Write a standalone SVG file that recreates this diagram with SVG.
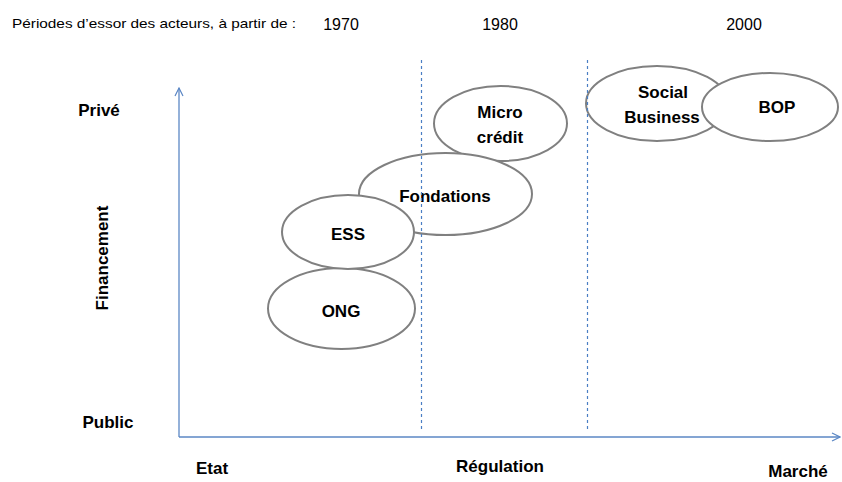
<svg xmlns="http://www.w3.org/2000/svg" width="842" height="482" viewBox="0 0 842 482">
<style>
.node ellipse{fill:#fff;stroke:#808080;stroke-width:2}
.lbl{font-family:"Liberation Sans",Arial,sans-serif;font-weight:bold;font-size:17px;fill:#000;text-anchor:middle}
.reg{font-family:"Liberation Sans",Arial,sans-serif;fill:#000}
.axis{stroke:#5B87C5;stroke-width:1.3;fill:none}
.dash{stroke:#4A7EC4;stroke-width:1.2;stroke-dasharray:3 3;fill:none}
</style>
<defs>
<marker id="open" viewBox="0 0 10 10" refX="9" refY="5" markerWidth="10" markerHeight="10" markerUnits="userSpaceOnUse" orient="auto">
<path d="M1,1 L9,5 L1,9" fill="none" stroke="#5B87C5" stroke-width="1.2"/>
</marker>
</defs>
<rect width="842" height="482" fill="#fff"/>
<text class="reg" x="12" y="28" font-size="13" textLength="284" lengthAdjust="spacingAndGlyphs">Périodes d’essor des acteurs, à partir de :</text>
<text class="reg" x="341" y="30" font-size="16" text-anchor="middle">1970</text>
<text class="reg" x="500" y="30" font-size="16" text-anchor="middle">1980</text>
<text class="reg" x="744" y="30" font-size="16" text-anchor="middle">2000</text>
<g id="axes">
<text class="lbl" x="99" y="116">Privé</text>
<text class="lbl" x="108" y="258" transform="rotate(-90 108 258)" font-size="16">Financement</text>
<text class="lbl" x="108" y="428">Public</text>
<text class="lbl" x="212" y="474">Etat</text>
<text class="lbl" x="500" y="472" font-size="16">Régulation</text>
<text class="lbl" x="798" y="477">Marché</text>
</g>
<g id="nodes">
<g id="ong" class="node"><ellipse cx="341.5" cy="308.5" rx="73.5" ry="40.5"/><text class="lbl" x="341" y="317">ONG</text></g>
<g id="microcredit" class="node"><ellipse cx="500.5" cy="123.5" rx="66.5" ry="37.5"/><text class="lbl" x="500" y="118">Micro</text><text class="lbl" x="500" y="143">crédit</text></g>
<g id="fondations" class="node"><ellipse cx="445.5" cy="194" rx="86.5" ry="41"/><text class="lbl" x="445" y="202">Fondations</text></g>
<g id="ess" class="node"><ellipse cx="348" cy="232" rx="66" ry="37"/><text class="lbl" x="348" y="240">ESS</text></g>
<g id="socialbusiness" class="node"><ellipse cx="657" cy="103.5" rx="71" ry="37.5"/><text class="lbl" x="663" y="98">Social</text><text class="lbl" x="662" y="123">Business</text></g>
<g id="bop" class="node"><ellipse cx="770" cy="107" rx="68" ry="34"/><text class="lbl" x="777" y="113">BOP</text></g>
</g>
<g id="connectors">
<line class="dash" x1="421.5" y1="60" x2="421.5" y2="432"/>
<line class="dash" x1="587.5" y1="60" x2="587.5" y2="432"/>
<line class="axis" x1="179" y1="437" x2="179" y2="88" marker-end="url(#open)"/>
<line class="axis" x1="179" y1="437" x2="840" y2="437" marker-end="url(#open)"/>
</g>
</svg>
